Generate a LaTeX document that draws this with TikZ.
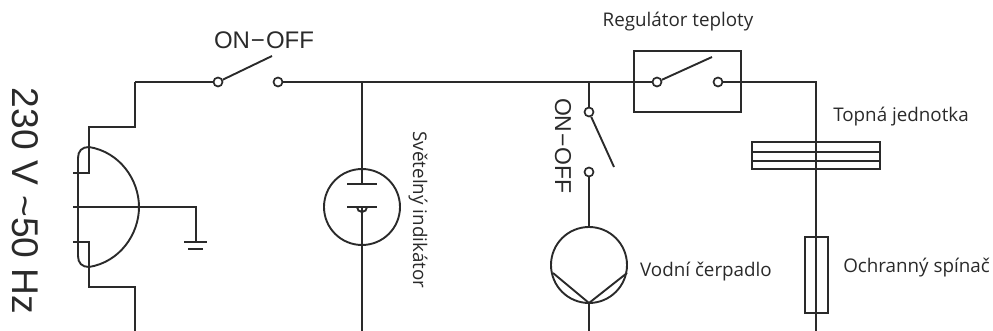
\documentclass[tikz,border=0pt]{standalone}
\usepackage{xcolor}
\usepackage{fontspec}
\setmainfont{Open Sans}
\newfontfamily\labelfont{Liberation Sans}
\usetikzlibrary{positioning}
\definecolor{wirecolor}{HTML}{2A2A2A}

\begin{document}
\begin{tikzpicture}[
    x=1pt, y=-1pt,
    wire/.style={line width=1.9pt, color=wirecolor},
    terminal/.style={circle, draw=wirecolor, line width=1.7pt, inner sep=0pt, minimum size=9pt},
    device/.style={rectangle, draw=wirecolor, line width=1.9pt, inner sep=0pt},
    bulb/.style={circle, draw=wirecolor, line width=1.9pt, inner sep=0pt, minimum size=76pt},
    caption/.style={font=\fontsize{18.8}{22}\selectfont, color=wirecolor, inner sep=0pt},
    marking/.style={font=\labelfont\fontsize{#1}{#1}\selectfont, color=wirecolor, inner sep=0pt}
]
\useasboundingbox (0,0) rectangle (993,331);

% Switches and devices
\node[terminal] (mainin) at (218,82) {};
\node[terminal] (mainout) at (278,82) {};
\node[terminal] (pumpin) at (589,112) {};
\node[terminal] (pumpout) at (589,172) {};
\node[device, minimum width=107pt, minimum height=61pt] (regulator) at (687.5,81.5) {};
\node[terminal] (regin) at (657,82) {};
\node[terminal] (regout) at (718,82) {};
\node[device, minimum width=128pt, minimum height=27pt] (heater) at (816,155.5) {};
\node[device, minimum width=23pt, minimum height=76pt] (fuse) at (816.5,275) {};
\node[bulb] (lamp) at (362,207) {};
\node[bulb] (pump) at (589,265) {};

% Corner points
\coordinate (topstep) at (135,82);
\coordinate (plugtop) at (89,127);
\coordinate (plugbot) at (89,287);
\coordinate (botstep) at (135,331);
\coordinate (busend) at (816,82);
\coordinate (lampend) at (362,331);
\coordinate (pumpend) at (589,331);
\coordinate (fuseend) at (816,331);
\coordinate (mainarm) at (272,56);
\coordinate (pumparm) at (614,167);
\coordinate (regarm) at (712,57);
\coordinate (plateup) at (362,184);
\coordinate (platedown) at (362,207);
\coordinate (pumptip) at (589,303);
\coordinate (groundpin) at (196,242);

% Supply side
\draw[wire] (topstep) -- (mainin);
\draw[wire] (topstep) |- (plugtop) -- (89,173) -- (73,173);
\draw[wire] (botstep) |- (plugbot) -- (89,242) -- (73,242);
\draw[wire] (73,207) -- (196,207) -- (groundpin);
\draw[wire] (184,242) -- (207,242);
\draw[wire] (188,249) -- (203,249);
\draw[wire] (89,147) .. controls (120,152) and (139,180) .. (139,207) .. controls (139,234) and (120,262) .. (89,267);
\draw[wire] (89,147) .. controls (82,147) and (78,151) .. (78,158) -- (78,256) .. controls (78,263) and (82,267) .. (89,267);

% Switch arms
\draw[wire] (mainin) -- (mainarm);
\draw[wire] (pumpin) -- (pumparm);
\draw[wire] (regin) -- (regarm);

% Bus
\draw[wire] (mainout) -- (regin);
\draw[wire] (regout) -- (busend) -- (heater.north);
\draw[wire] (heater.north) -- (heater.south);
\draw[wire] (752,152) -- (880,152);
\draw[wire] (752,161) -- (880,161);
\draw[wire] (heater.south) -- (fuse.north -| heater.south);
\draw[wire] (fuse.north -| heater.south) -- (fuseend);

% Indicator
\draw[wire] (362,82) -- (plateup);
\draw[wire] (347,184) -- (377,184);
\draw[wire] (347,207) -- (377,207);
\draw[wire] (357,207) arc[start angle=180, end angle=0, radius=5];
\draw[wire] (platedown) -- (lampend);

% Pump
\draw[wire] (589,82) -- (pumpin);
\draw[wire] (pumpout) -- (pump.north);
\draw[wire] (553,273) -- (pumptip) -- (627,273);
\draw[wire] (pumptip) -- (pumpend);

% Labels
\node[marking=37.2, rotate=-90] (supplylabel) at (25,201) {230 V \textasciitilde 50 Hz};
\node[marking=24] (mainlabel) at (264,40) {ON\kern1pt−\kern1ptOFF};
\node[marking=23, rotate=-90] (pumplabel) at (563,146) {ON\kern1pt−\kern1ptOFF};
\node[caption, rotate=-90] (lamplabel) at (418,210) {Světelný indikátor};
\node[caption] (reglabel) at (678,22) {Regulátor teploty};
\node[caption] (heatlabel) at (901,117) {Topná jednotka};
\node[caption] (pumpname) at (706,272) {Vodní čerpadlo};
\node[caption] (fuselabel) at (916.5,268) {Ochranný spínač};
\end{tikzpicture}
\end{document}
